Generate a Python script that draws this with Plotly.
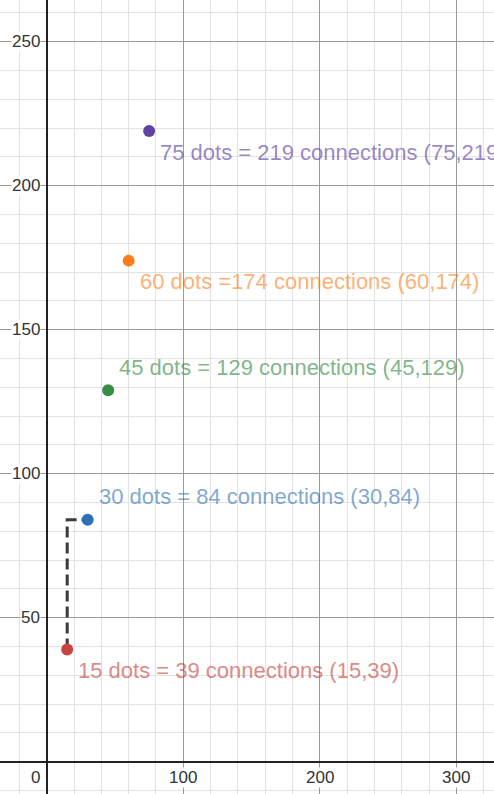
import plotly.graph_objects as go

# ---- data ----
dots = [15, 30, 45, 60, 75]
connections = [39, 84, 129, 174, 219]
labels = [
    "15 dots = 39 connections (15,39)",
    "30 dots = 84 connections (30,84)",
    "45 dots = 129 connections (45,129)",
    "60 dots =174 connections (60,174)",
    "75 dots = 219 connections (75,219)",
]
point_colors = ["#c74440", "#2d70b3", "#388c46", "#fa7e19", "#6042a6"]
label_colors = ["rgba(199,68,64,0.65)", "rgba(45,112,179,0.62)", "rgba(56,140,70,0.65)",
                "rgba(250,126,25,0.62)", "rgba(96,66,166,0.65)"]
label_side = ["below", "above", "above", "below", "below"]

x_ticks = [0, 100, 200, 300]
y_ticks = [50, 100, 150, 200, 250]

FONT = "Liberation Sans, Arial, sans-serif"

fig = go.Figure()

# dashed step between first two points
fig.add_trace(go.Scatter(
    x=[dots[0], dots[0], dots[1]],
    y=[connections[0], connections[1], connections[1]],
    mode="lines",
    line=dict(color="#3a3a3a", width=3, dash="11px,5px"),
    hoverinfo="skip",
))

for xv, yv, c in zip(dots, connections, point_colors):
    fig.add_trace(go.Scatter(
        x=[xv], y=[yv], mode="markers",
        marker=dict(color=c, size=12, line=dict(width=0)),
    ))

annotations = []
for xv, yv, t, lc, side in zip(dots, connections, labels, label_colors, label_side):
    annotations.append(dict(
        x=xv, y=yv, xref="x", yref="y", text=t, showarrow=False,
        xanchor="left", yanchor="middle",
        xshift=9, yshift=(23 if side == "above" else -21),
        font=dict(family=FONT, size=22, color=lc),
    ))

for tv in x_ticks:
    if tv == 0:
        annotations.append(dict(x=tv, y=0, xref="x", yref="y", text=str(tv),
                                showarrow=False, xanchor="right", yanchor="top",
                                xshift=-6, yshift=-5, bgcolor="white", borderpad=0,
                                font=dict(family=FONT, size=17, color="#333")))
    else:
        annotations.append(dict(x=tv, y=0, xref="x", yref="y", text=str(tv),
                                showarrow=False, xanchor="center", yanchor="top",
                                yshift=-5, bgcolor="white", borderpad=0,
                                font=dict(family=FONT, size=17, color="#333")))
for tv in y_ticks:
    annotations.append(dict(x=0, y=tv, xref="x", yref="y", text=str(tv),
                            showarrow=False, xanchor="right", yanchor="middle",
                            xshift=-6, bgcolor="white", borderpad=0,
                            font=dict(family=FONT, size=17, color="#333")))

fig.update_layout(
    width=494, height=794,
    margin=dict(l=0, r=0, t=0, b=0),
    paper_bgcolor="white", plot_bgcolor="white",
    showlegend=False,
    annotations=annotations,
    xaxis=dict(range=[-34.2, 327.5], dtick=100, tick0=0,
               showticklabels=False, ticks="",
               showgrid=True, gridcolor="#9a9a9a", gridwidth=1,
               minor=dict(dtick=20, tick0=0, showgrid=True, gridcolor="#e2e2e2", gridwidth=1),
               zeroline=True, zerolinecolor="#222", zerolinewidth=2,
               fixedrange=True),
    yaxis=dict(range=[-11.2, 264.5], dtick=50, tick0=0,
               showticklabels=False, ticks="",
               showgrid=True, gridcolor="#9a9a9a", gridwidth=1,
               minor=dict(dtick=10, tick0=0, showgrid=True, gridcolor="#e2e2e2", gridwidth=1),
               zeroline=True, zerolinecolor="#222", zerolinewidth=2,
               fixedrange=True),
)

fig.write_html("out.html", config={"displayModeBar": False},
               post_script="document.body.style.margin='0';")
